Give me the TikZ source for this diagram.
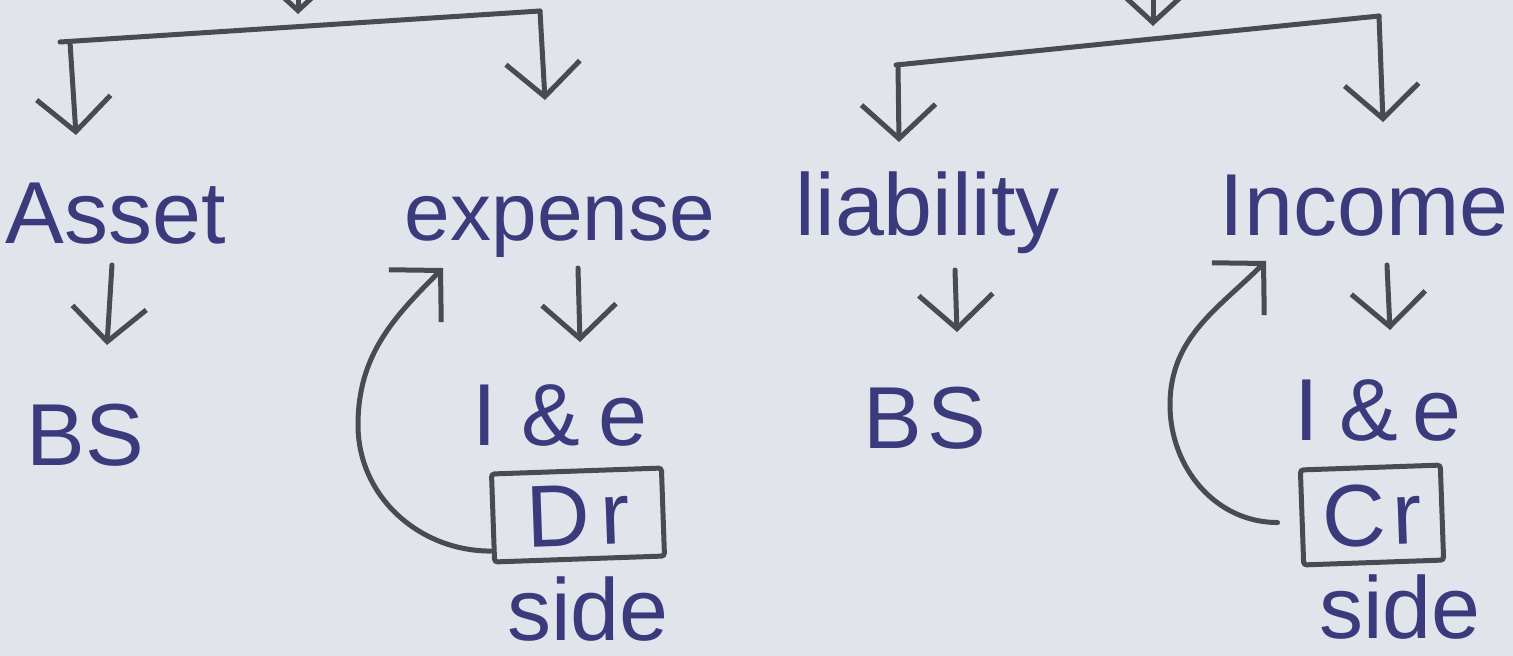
\documentclass[tikz,border=0pt]{standalone}
\usepackage{fontspec}
\setmainfont{Liberation Sans}
\usetikzlibrary{arrows.meta}
\definecolor{paper}{HTML}{E2E4EB}
\definecolor{ink}{HTML}{3A3A7C}
\definecolor{pencil}{HTML}{4A4A52}
\begin{document}
\begin{tikzpicture}[x=1pt,y=1pt,
  txt/.style={font=\fontsize{88}{90}\selectfont, text=ink, inner sep=0pt, anchor=base, text depth=0pt},
  ln/.style={draw=pencil, line width=5pt, line cap=round, line join=round},
  dn/.style={ln, -{Straight Barb[length=34pt,width=74pt]}},
  cv/.style={ln, -{Straight Barb[length=36pt,width=74pt]}},
  boxst/.style={draw=pencil, line width=5pt, rounded corners=3pt, text=ink,
    font=\fontsize{88}{90}\selectfont, inner sep=0pt}]
\fill[paper] (0,0) rectangle (1513,-656);
\useasboundingbox (0,0) rectangle (1513,-656);

% text nodes
\node[txt] (asset) at (116,-243) {Asset};
\node[txt, font=\fontsize{82}{84}\selectfont] (expense) at (560,-240) {expense};
\node[txt] (liab) at (928,-235) {liability};
\node[txt] (income) at (1364,-235) {Income};
\node[txt] (bs1) at (85,-465) {BS};
\node[txt] (ie1) at (560,-445) {I\hspace{24pt}\&\hspace{18pt}e};
\node[txt] (bs2) at (925,-448) {B\hspace{6pt}S};
\node[txt] (ie2) at (1378,-440) {I\hspace{20pt}\&\hspace{14pt}e};
\node[boxst, minimum width=170pt, minimum height=88pt, rotate=2] (dr) at (578,-515) {D\hspace{10pt}r};
\node[boxst, minimum width=140pt, minimum height=95pt, rotate=2] (cr) at (1372,-515) {C\hspace{6pt}r};
\node[txt] (side1) at (588,-640) {side};
\node[txt] (side2) at (1400,-638) {side};

% bracket coordinates
\coordinate (t1) at (298,-14);
\coordinate (l1) at (60,-42);
\coordinate (r1) at (540,-11);
\coordinate (a1) at (76,-135);
\coordinate (e1) at (545,-100);
\coordinate (t2) at (1153,-26);
\coordinate (l2) at (896,-65);
\coordinate (r2) at (1379,-16);
\coordinate (a2) at (899,-142);
\coordinate (e2) at (1383,-122);

% top partial arrows
\draw[dn] (298,40) -- (t1);
\draw[dn] (1153,40) -- (t2);

% brackets
\draw[ln] (l1) -- (r1);
\draw[dn] ([xshift=10pt]l1) -- (a1);
\draw[dn] (r1) -- (e1);
\draw[ln] (l2) -- (r2);
\draw[dn] ([xshift=2pt]l2) -- (a2);
\draw[dn] (r2) -- (e2);

% arrows below words
\draw[dn] (112,-265) -- (107,-345);
\draw[dn] (578,-268) -- (580,-342);
\draw[dn] (955,-270) -- (957,-332);
\draw[dn] (1387,-265) -- (1390,-330);

% curved arrows
\coordinate (et) at (443,-268);
\coordinate (it) at (1266,-261);
\draw[cv] ([yshift=-33pt]dr.west) to[out=180,in=-90] (358,-425) to[out=90,in=-135] (et);
\draw[cv] ([xshift=-22pt,yshift=-5pt]cr.west) to[out=180,in=-90] (1170,-405) to[out=90,in=-135] (it);
\end{tikzpicture}
\end{document}
